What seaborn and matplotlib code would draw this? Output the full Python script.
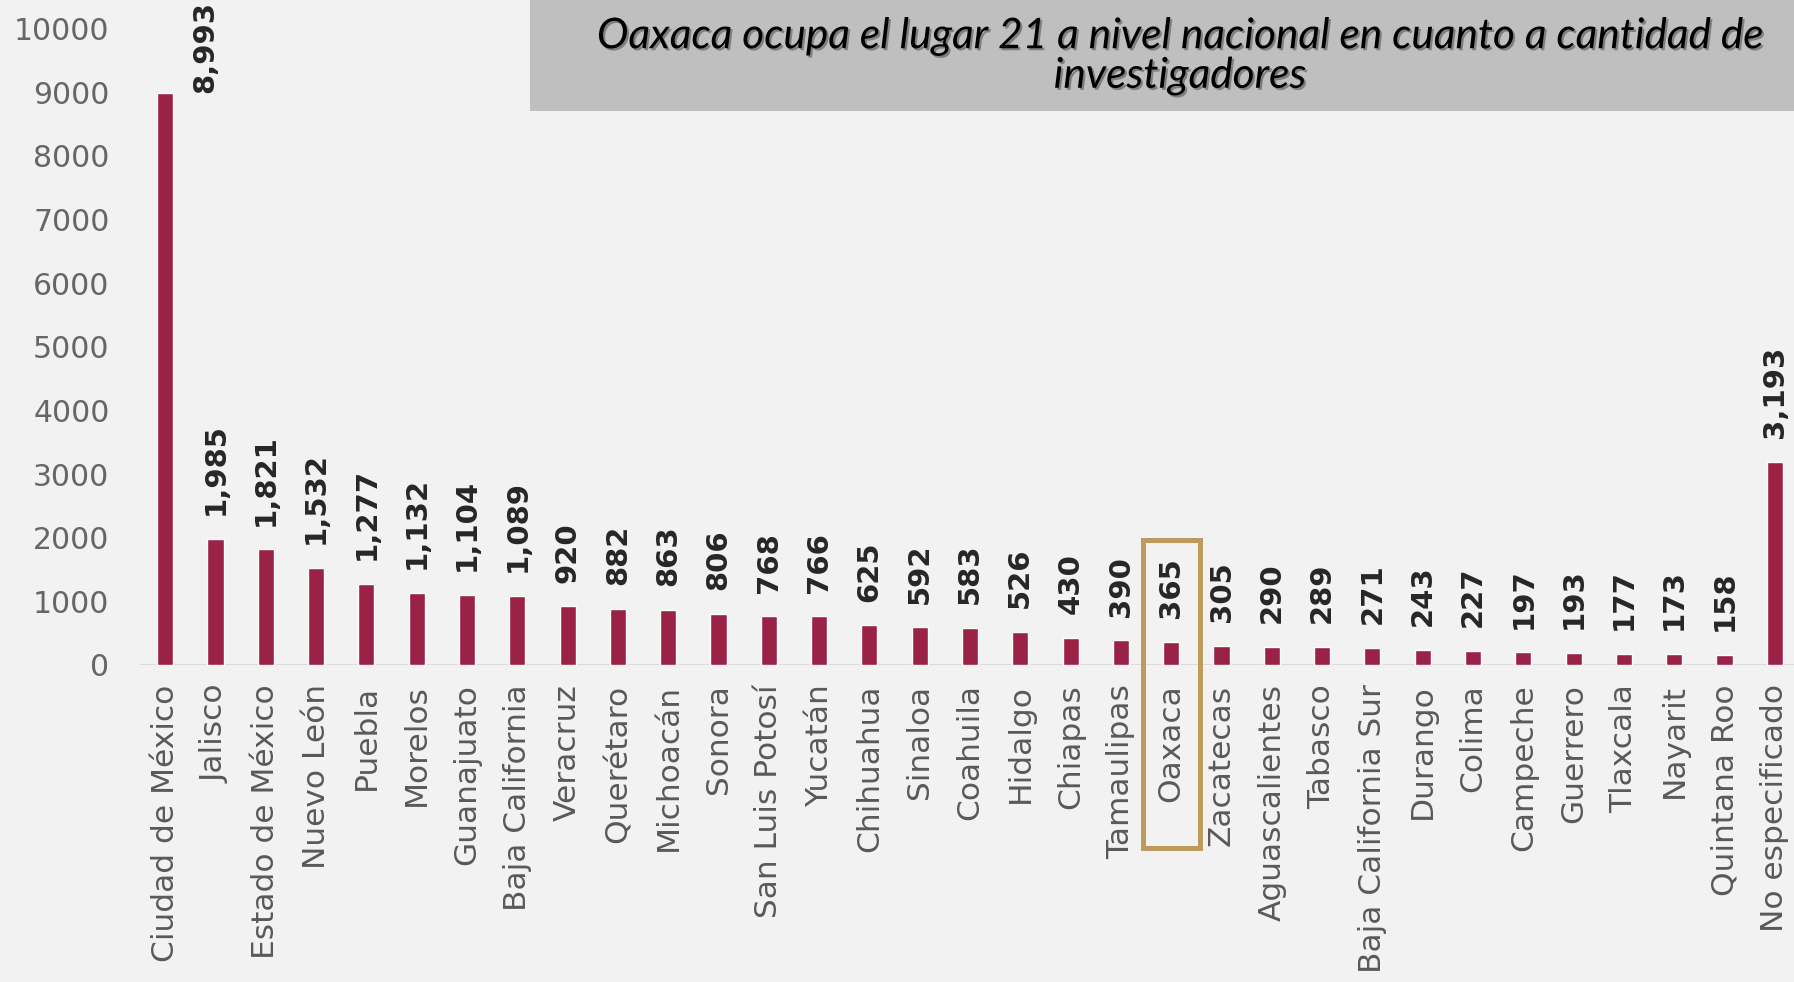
import matplotlib
matplotlib.use("Agg")
import matplotlib.pyplot as plt
import matplotlib.patheffects as pe
import matplotlib.transforms as mtransforms
from matplotlib.patches import Rectangle
import seaborn as sns

estados = ["Ciudad de México", "Jalisco", "Estado de México", "Nuevo León", "Puebla",
           "Morelos", "Guanajuato", "Baja California", "Veracruz", "Querétaro",
           "Michoacán", "Sonora", "San Luis Potosí", "Yucatán", "Chihuahua",
           "Sinaloa", "Coahuila", "Hidalgo", "Chiapas", "Tamaulipas", "Oaxaca",
           "Zacatecas", "Aguascalientes", "Tabasco", "Baja California Sur",
           "Durango", "Colima", "Campeche", "Guerrero", "Tlaxcala", "Nayarit",
           "Quintana Roo", "No especificado"]
investigadores = [8993, 1985, 1821, 1532, 1277, 1132, 1104, 1089, 920, 882,
                  863, 806, 768, 766, 625, 592, 583, 526, 430, 390, 365,
                  305, 290, 289, 271, 243, 227, 197, 193, 177, 173, 158, 3193]
y_ticks = list(range(0, 10001, 1000))
titulo = "Oaxaca ocupa el lugar 21 a nivel nacional en cuanto a cantidad de\ninvestigadores"
destacado = "Oaxaca"

guinda = "#9B2247"
fondo = "#F2F2F2"
gris = "#595959"

sns.set_style("white")
plt.rcParams['font.family'] = ['DejaVu Sans']

fig = plt.figure(figsize=(17.94, 9.82), dpi=100, facecolor=fondo)
ax = fig.add_axes([140 / 1794, 317 / 982, 1660 / 1794, 636.4 / 982])
ax.set_facecolor(fondo)

sns.barplot(x=estados, y=investigadores, color=guinda, saturation=1, width=0.32, ax=ax)

ax.set_xlim(-0.5, len(estados) - 0.5)
ax.set_ylim(0, 10000)
ax.set_yticks(y_ticks)
ax.set_yticklabels([str(t) for t in y_ticks], fontsize=21.5, color="#666666")
ax.tick_params(axis='y', length=0, pad=22)
ax.tick_params(axis='x', length=0, pad=14, labelrotation=90, labelsize=22.5, labelcolor=gris)
for s in ax.spines.values():
    s.set_visible(False)
ax.axhline(0, color="#D9D9D9", lw=2, zorder=0)
ax.set_xlabel("")
ax.set_ylabel("")

for i, v in enumerate(investigadores):
    if i == 0:
        ax.text(i + 0.8, v, f"{v:,}", rotation=90, ha='center', va='bottom',
                fontsize=21, fontweight='bold', color="#262626")
    else:
        ax.annotate(f"{v:,}", (i, v), xytext=(0, 17), textcoords='offset points',
                    rotation=90, ha='center', va='bottom',
                    fontsize=21, fontweight='bold', color="#262626")

# recuadro de Oaxaca
k = estados.index(destacado)
trans = mtransforms.blended_transform_factory(ax.transData, ax.transAxes)
ax.add_patch(Rectangle((k - 0.57, -0.288), 1.14, 0.485, transform=trans,
                       fill=False, edgecolor="#BF9A5E", lw=3.6, clip_on=False))

# caja del titulo
fig.patches.append(Rectangle((530 / 1794, 1 - 111 / 982), 1.0, 111 / 982,
                             transform=fig.transFigure, facecolor="#BFBFBF",
                             edgecolor="none", zorder=0))
fig.text(1180 / 1794, 1 - 56 / 982, titulo, ha='center', va='center',
         fontsize=30.5, style='italic', family=['Lato', 'DejaVu Sans'],
         color="black", linespacing=1.05,
         path_effects=[pe.SimplePatchShadow(offset=(1.5, -1.5), shadow_rgbFace="#555555", alpha=0.6),
                       pe.Normal()])

fig.savefig("out.png", dpi=100, facecolor=fondo)
